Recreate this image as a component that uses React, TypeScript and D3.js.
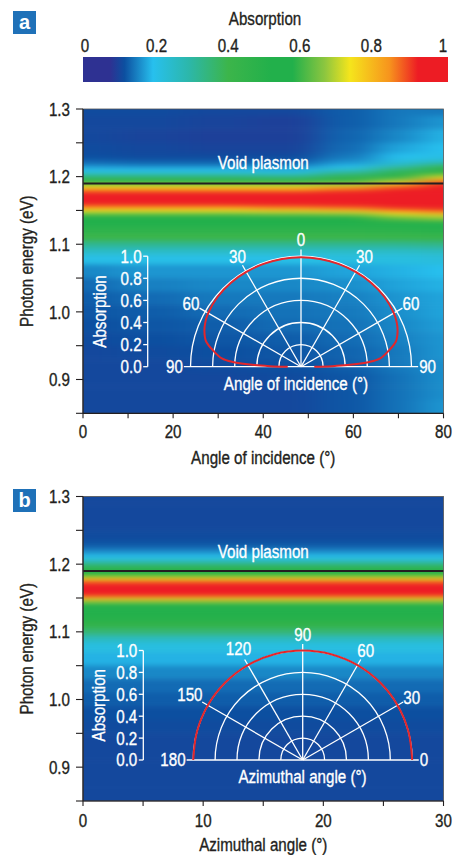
import * as d3 from 'd3'

const FONT = "'Liberation Sans', Arial, sans-serif"
const INK = '#231f20'
const FS = 18.5
const SQUEEZE = 0.82 // the figure uses a condensed face; squeeze Liberation Sans to match

// colour map of the absorption bar
const cmapStops = [0, 0.07, 0.11, 0.19, 0.29, 0.4, 0.52, 0.58, 0.67, 0.74, 0.85, 0.93, 1]
const cmapColors = ['#2e3192', '#2e3192', '#0c4fa0', '#27c0ee', '#2cb7aa', '#3cb54a', '#22b04b', '#22b04b', '#8dc63f', '#f5e51c', '#f7941d', '#ed1c24', '#ed1c24']
const cbarTicks = [0, 0.2, 0.4, 0.6, 0.8, 1]

// photon energies (eV) of the map rows, top to bottom
const energies = [1.30, 1.28, 1.26, 1.24, 1.23, 1.22, 1.215, 1.21, 1.205, 1.20, 1.195, 1.19, 1.185, 1.18, 1.175, 1.17, 1.165, 1.16, 1.155, 1.15, 1.145, 1.14, 1.13, 1.12, 1.11, 1.10, 1.09, 1.08, 1.06, 1.04, 1.02, 1.00, 0.98, 0.96, 0.94, 0.92, 0.90, 0.88, 0.86]

// panel a: absorption per angle of incidence column
const incidenceAngles = [0, 15, 30, 45, 60, 70, 80]
const absInc0 = [0.105, 0.10, 0.10, 0.105, 0.11, 0.13, 0.16, 0.19, 0.24, 0.35, 0.50, 0.62, 0.74, 0.86, 0.95, 1.0, 1.0, 0.96, 0.86, 0.74, 0.64, 0.56, 0.52, 0.47, 0.40, 0.32, 0.25, 0.20, 0.15, 0.13, 0.12, 0.115, 0.11, 0.105, 0.10, 0.10, 0.10, 0.10, 0.10]
const absInc15 = [0.105, 0.10, 0.095, 0.10, 0.105, 0.125, 0.155, 0.19, 0.24, 0.35, 0.50, 0.62, 0.74, 0.86, 0.95, 1.0, 1.0, 0.96, 0.86, 0.74, 0.64, 0.56, 0.52, 0.47, 0.40, 0.32, 0.25, 0.20, 0.16, 0.145, 0.13, 0.12, 0.115, 0.11, 0.105, 0.10, 0.10, 0.10, 0.10]
const absInc30 = [0.10, 0.095, 0.09, 0.095, 0.105, 0.125, 0.155, 0.19, 0.24, 0.35, 0.50, 0.62, 0.74, 0.86, 0.95, 1.0, 1.0, 0.96, 0.86, 0.74, 0.64, 0.56, 0.52, 0.47, 0.40, 0.32, 0.25, 0.20, 0.16, 0.15, 0.14, 0.13, 0.12, 0.115, 0.11, 0.105, 0.10, 0.10, 0.10]
const absInc45 = [0.10, 0.09, 0.09, 0.095, 0.105, 0.125, 0.15, 0.185, 0.23, 0.33, 0.48, 0.62, 0.74, 0.86, 0.95, 1.0, 1.0, 0.97, 0.88, 0.76, 0.66, 0.57, 0.52, 0.47, 0.40, 0.32, 0.25, 0.20, 0.16, 0.15, 0.14, 0.135, 0.13, 0.12, 0.115, 0.11, 0.105, 0.10, 0.10]
const absInc60 = [0.12, 0.12, 0.125, 0.13, 0.14, 0.16, 0.19, 0.24, 0.32, 0.42, 0.55, 0.66, 0.78, 0.90, 0.98, 1.0, 1.0, 0.98, 0.90, 0.78, 0.68, 0.58, 0.52, 0.47, 0.40, 0.32, 0.25, 0.21, 0.17, 0.155, 0.145, 0.14, 0.135, 0.13, 0.125, 0.12, 0.115, 0.115, 0.115]
const absInc70 = [0.14, 0.14, 0.15, 0.17, 0.19, 0.22, 0.28, 0.36, 0.46, 0.56, 0.66, 0.76, 0.88, 0.97, 1.0, 1.0, 1.0, 1.0, 0.96, 0.86, 0.74, 0.64, 0.55, 0.48, 0.41, 0.32, 0.25, 0.21, 0.18, 0.17, 0.16, 0.155, 0.15, 0.145, 0.14, 0.14, 0.135, 0.135, 0.135]
const absInc80 = [0.14, 0.16, 0.18, 0.19, 0.20, 0.26, 0.40, 0.50, 0.60, 0.72, 0.82, 0.92, 1.0, 1.0, 1.0, 1.0, 1.0, 1.0, 0.97, 0.90, 0.78, 0.68, 0.56, 0.50, 0.42, 0.33, 0.26, 0.22, 0.19, 0.18, 0.17, 0.17, 0.165, 0.16, 0.16, 0.155, 0.155, 0.155, 0.16]
const colsA = [absInc0, absInc15, absInc30, absInc45, absInc60, absInc70, absInc80]

// panel b: the map does not change with azimuth
const azimuthCols = [0]
const absAzimuth = [0.10, 0.10, 0.10, 0.105, 0.115, 0.14, 0.175, 0.20, 0.25, 0.33, 0.45, 0.54, 0.56, 0.72, 0.86, 0.97, 1.0, 1.0, 0.93, 0.80, 0.68, 0.58, 0.53, 0.50, 0.44, 0.35, 0.26, 0.21, 0.18, 0.15, 0.13, 0.12, 0.11, 0.105, 0.10, 0.10, 0.10, 0.10, 0.10]

// polar insets
const polarIncAngles = [0, 10, 20, 30, 40, 50, 60, 65, 70, 75, 80, 84, 86, 88, 89, 90]
const polarIncAbs = [0.99, 0.99, 0.99, 0.99, 0.99, 0.985, 0.97, 0.955, 0.93, 0.89, 0.80, 0.72, 0.62, 0.42, 0.28, 0.12]
const polarAzAngles = [0, 15, 30, 45, 60, 75, 90, 105, 120, 135, 150, 165, 180]
const polarAzAbs = [1, 1, 1, 1, 1, 1, 1, 1, 1, 1, 1, 1, 1]
const polarRings = [0.2, 0.4, 0.6, 0.8, 1.0]
const incSpokes = [-90, -60, -30, 0, 30, 60, 90]
const incSpokeLabels = ['90', '60', '30', '0', '30', '60', '90']
const azSpokes = [180, 150, 120, 90, 60, 30, 0]

const plasmonEnergy = 1.19
const energyTicks = d3.range(0.85, 1.3001, 0.05)
const energyLabels = [0.9, 1.0, 1.1, 1.2, 1.3]

const cmap = d3.scaleLinear<string>().domain(cmapStops).range(cmapColors).interpolate(d3.interpolateRgb).clamp(true)

function T({ x, y, rotate, anchor = 'middle', c = INK, children, ...rest }: any) {
  const tf = `translate(${x},${y})${rotate ? ` rotate(${rotate})` : ''} scale(${SQUEEZE},1)`
  return (
    <text transform={tf} textAnchor={anchor} fill={c} stroke={c} strokeWidth={0.35}
      fontFamily={FONT} fontSize={FS} {...rest}>{children}</text>
  )
}

function Heatmap({ id, x, y, colAngles, cols, blur }: any) {
  const [x0, x1] = x.range()
  const [yb, yt] = y.range()
  const colPx = colAngles.map((a: number, i: number) => [
    i === 0 ? x0 - 40 : x((colAngles[i - 1] + a) / 2),
    i === colAngles.length - 1 ? x1 + 40 : x((a + colAngles[i + 1]) / 2),
  ])
  const rowPx = energies.map((e, i) => [
    i === 0 ? yt - 40 : y((energies[i - 1] + e) / 2),
    i === energies.length - 1 ? yb + 40 : y((e + energies[i + 1]) / 2),
  ])
  return (
    <g clipPath={`url(#${id}-clip)`}>
      <defs>
        <clipPath id={`${id}-clip`}>
          <rect x={x0} y={yt} width={x1 - x0} height={yb - yt} />
        </clipPath>
        <filter id={`${id}-blur`} filterUnits='userSpaceOnUse' colorInterpolationFilters='sRGB'
          x={x0 - 60} y={yt - 60} width={x1 - x0 + 120} height={yb - yt + 120}>
          <feGaussianBlur stdDeviation={blur} />
        </filter>
      </defs>
      <g filter={`url(#${id}-blur)`}>
        {cols.map((col: number[], j: number) => col.map((v, i) => (
          <rect key={`${j}-${i}`} x={colPx[j][0]} y={rowPx[i][0]}
            width={colPx[j][1] - colPx[j][0] + 0.5} height={rowPx[i][1] - rowPx[i][0] + 0.5} fill={cmap(v)} />
        )))}
      </g>
    </g>
  )
}

function Polar({ cx, cy, R, axisX, spokes, labels, curve, title, titleX, titleY, absX }: any) {
  const r = d3.scaleLinear().domain([0, 1]).range([0, R])
  const rad = (d: number) => d * Math.PI / 180
  const ring = (rr: number) => {
    const p = d3.path()
    p.arc(cx, cy, rr, Math.PI, 2 * Math.PI)
    return p.toString()
  }
  const line = d3.lineRadial<[number, number]>()
    .angle(d => rad(d[0]))
    .radius(d => r(d[1]))
    .curve(d3.curveCatmullRom)
  const rEnd = R * 1.06
  const W = '#fff'
  return (
    <g>
      {polarRings.map(v => <path key={v} d={ring(r(v))} fill='none' stroke={W} strokeWidth={1.3} />)}
      {spokes.map((a: number) => (
        <line key={a} x1={cx} y1={cy} x2={cx + rEnd * Math.sin(rad(a))} y2={cy - rEnd * Math.cos(rad(a))} stroke={W} strokeWidth={1.3} />
      ))}
      {spokes.map((a: number, i: number) => {
        const lab = labels[i]
        if (Math.abs(a) === 90) {
          return <T key={a} c={W} x={cx + Math.sign(a) * (rEnd + 1)} y={cy} dy='0.35em' anchor={a < 0 ? 'end' : 'start'}>{lab}</T>
        }
        const rl = R * 1.15 + Math.max(0, lab.length - 2) * 5 * Math.abs(Math.sin(rad(a)))
        return <T key={a} c={W} x={cx + rl * Math.sin(rad(a))} y={cy - rl * Math.cos(rad(a))} dy='0.35em'>{lab}</T>
      })}
      <path d={line(curve) || ''} transform={`translate(${cx},${cy})`} fill='none' stroke='#e3262b' strokeWidth={2} />
      <line x1={axisX} x2={axisX} y1={cy - R} y2={cy} stroke={W} strokeWidth={1.3} />
      {polarRings.concat([0]).map(v => (
        <g key={v}>
          <line x1={axisX - 4.5} x2={axisX} y1={cy - r(v)} y2={cy - r(v)} stroke={W} strokeWidth={1.3} />
          <T c={W} x={axisX - 6} y={cy - r(v)} dy='0.35em' anchor='end'>{v.toFixed(1)}</T>
        </g>
      ))}
      <T c={W} x={absX} y={cy - R / 2} rotate={-90}>Absorption</T>
      <T c={W} x={titleX} y={titleY}>{title}</T>
    </g>
  )
}

function Panel({ id, badge, badgeY, x, y, xTicks, xLabels, xTitle, cols, colAngles, blur, labelY, titleY, plasmonY, children }: any) {
  const [x0, x1] = x.range()
  const [yb, yt] = y.range()
  return (
    <g>
      <rect x={13} y={badgeY} width={23} height={23} fill='#1f71b8' />
      <text x={24.5} y={badgeY + 17.5} textAnchor='middle' fill='#fff' fontFamily={FONT} fontWeight='bold' fontSize={20}>{badge}</text>
      <Heatmap id={id} x={x} y={y} colAngles={colAngles} cols={cols} blur={blur} />
      <line x1={x0} x2={x1} y1={y(plasmonEnergy)} y2={y(plasmonEnergy)} stroke={INK} strokeWidth={2} />
      <T c='#fff' x={(x0 + x1) / 2} y={plasmonY}>Void plasmon</T>
      {children}
      <rect x={x0} y={yt} width={x1 - x0} height={yb - yt} fill='none' stroke='#555' strokeWidth={0.8} />
      <line x1={x0} x2={x0} y1={yt} y2={yb} stroke={INK} strokeWidth={1.2} />
      <line x1={x0} x2={x1} y1={yb} y2={yb} stroke={INK} strokeWidth={1.2} />
      {energyTicks.map(e => <line key={e} x1={x0 - 7} x2={x0} y1={y(e)} y2={y(e)} stroke={INK} strokeWidth={1.1} />)}
      {energyLabels.map(e => <T key={e} x={x0 - 13} y={y(e)} dy='0.36em' anchor='end'>{e.toFixed(1)}</T>)}
      {xTicks.map((t: number) => <line key={t} x1={x(t)} x2={x(t)} y1={yb} y2={yb + 5} stroke={INK} strokeWidth={1.1} />)}
      {xLabels.map((t: number) => <T key={t} x={x(t)} y={labelY}>{t}</T>)}
      <T x={(x0 + x1) / 2} y={titleY}>{xTitle}</T>
      <T x={33} y={(yt + yb) / 2} rotate={-90}>Photon energy (eV)</T>
    </g>
  )
}

export default function App() {
  const cbX = d3.scaleLinear().domain([0, 1]).range([85, 443])
  const cbLeft = 83
  const cbRight = 448

  const xA = d3.scaleLinear().domain([0, 80]).range([83, 443.5])
  const yA = d3.scaleLinear().domain([0.85, 1.3]).range([413.3, 109])
  const xB = d3.scaleLinear().domain([0, 30]).range([83, 443.5])
  const yB = d3.scaleLinear().domain([0.85, 1.3]).range([801, 496.5])

  const curveA: [number, number][] = [
    ...polarIncAngles.slice().reverse().map((a, i) => [-a, polarIncAbs[polarIncAngles.length - 1 - i]] as [number, number]),
    ...polarIncAngles.slice(1).map((a, i) => [a, polarIncAbs[i + 1]] as [number, number]),
  ]
  const curveB: [number, number][] = polarAzAngles.map((a, i) => [90 - a, polarAzAbs[i]])

  return (
    <svg width={455} height={855} style={{ position: 'absolute', left: 0, top: 0, background: '#fff' }}>
      <defs>
        <linearGradient id='cbar' x1='0' x2='1' y1='0' y2='0'>
          {cmapStops.map((s, i) => (
            <stop key={i} offset={(cbX(s) - cbLeft) / (cbRight - cbLeft)} stopColor={cmapColors[i]} />
          ))}
        </linearGradient>
      </defs>
      <T x={265} y={25}>Absorption</T>
      {cbarTicks.map(t => <T key={t} x={cbX(t)} y={52}>{t}</T>)}
      <rect x={cbLeft} y={57} width={cbRight - cbLeft} height={25} fill='url(#cbar)' />

      <Panel id='pa' badge='a' badgeY={11} x={xA} y={yA} xTicks={d3.range(0, 81, 10)} xLabels={[0, 20, 40, 60, 80]}
        xTitle='Angle of incidence (°)' cols={colsA} colAngles={incidenceAngles} blur='16 2.5'
        labelY={438} titleY={464} plasmonY={169}>
        <Polar cx={301} cy={366.7} R={110.5} axisX={147.7} spokes={incSpokes} labels={incSpokeLabels}
          curve={curveA} title='Angle of incidence (°)' titleX={296} titleY={390} absX={106} />
      </Panel>

      <Panel id='pb' badge='b' badgeY={489} x={xB} y={yB} xTicks={d3.range(0, 31, 5)} xLabels={[0, 10, 20, 30]}
        xTitle='Azimuthal angle (°)' cols={[absAzimuth]} colAngles={azimuthCols} blur='1 2.5'
        labelY={827} titleY={851} plasmonY={558}>
        <Polar cx={302.7} cy={760} R={109.5} axisX={143.3} spokes={azSpokes.map(a => 90 - a)} labels={azSpokes.map(String)}
          curve={curveB} title='Azimuthal angle (°)' titleX={302.5} titleY={783} absX={105} />
      </Panel>
    </svg>
  )
}
